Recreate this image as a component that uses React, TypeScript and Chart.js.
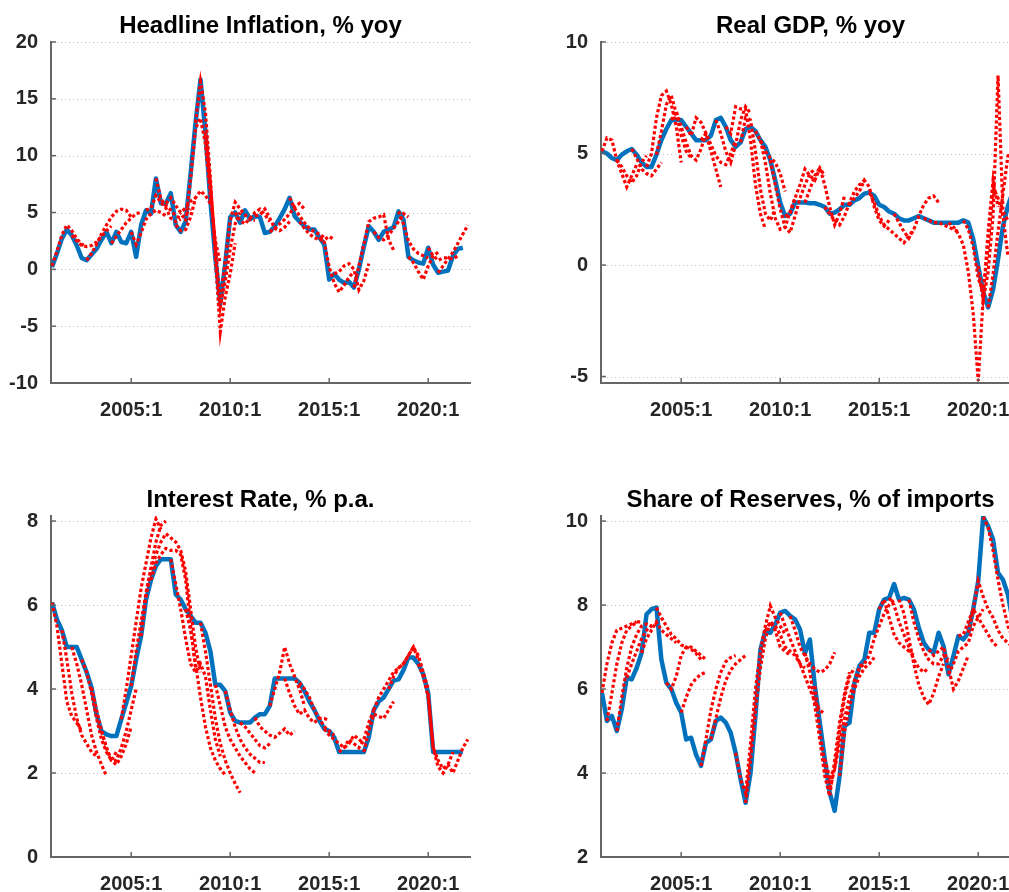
import React, { useEffect, useRef } from "react";
import { Chart, registerables } from "chart.js";

Chart.register(...registerables);

// ---------- data ----------
const firstYear = 2001; // first observation 2001:1, quarterly
const xTickYears = [2005, 2010, 2015, 2020];

const inflationTicks = [-10, -5, 0, 5, 10, 15, 20];
const gdpTicks = [-5, 0, 5, 10];
const rateTicks = [0, 2, 4, 6, 8];
const reserveTicks = [2, 4, 6, 8, 10];

const inflationActual = [
  0.2, 1.4, 2.7, 3.5, 3.0, 2.1, 1.0, 0.8, 1.3, 1.8,
  2.6, 3.3, 2.3, 3.3, 2.4, 2.3, 3.3, 1.1, 3.9, 5.2,
  4.9, 8.0, 5.8, 5.8, 6.7, 3.9, 3.3, 4.2, 8.4, 12.9,
  16.7, 12.0, 6.0, 1.0, -3.0, 0.5, 4.6, 5.0, 4.1, 5.2,
  4.4, 4.7, 4.6, 3.2, 3.3, 3.8, 4.5, 5.3, 6.3, 4.7,
  4.2, 3.8, 3.5, 3.5, 2.8, 2.2, -0.9, -0.4, -0.9, -1.2,
  -1.1, -1.6, 0.0, 2.0, 3.8, 3.3, 2.6, 3.3, 3.5, 3.7,
  5.1, 4.4, 1.1, 0.8, 0.6, 0.5, 1.9, 0.4, -0.3, -0.2,
  -0.1, 1.2, 1.8, 1.9,
];
const inflationForecastStarts = [0, 4, 7, 12, 16, 19, 21, 23, 25, 27, 29, 31, 34, 37, 41, 44, 48, 50, 54, 57, 61, 65, 70, 72, 76, 78];
const inflationForecastPaths = [
  [0.3, 1.6, 3.0, 3.9, 3.4, 2.7, 2.2, 2.0],
  [3.0, 2.5, 2.1, 2.0, 2.1, 2.4, 2.9, 3.4, 3.8],
  [0.8, 1.4, 2.2, 3.1, 3.9, 4.6, 5.1, 5.3, 5.2, 4.6],
  [2.3, 2.9, 3.5, 4.1, 4.5, 4.9, 5.0],
  [3.3, 2.2, 3.2, 4.4, 4.9, 5.2, 5.0, 4.7],
  [5.2, 5.4, 6.5, 5.9, 5.4, 4.5, 4.2, 4.4],
  [8.0, 6.2, 5.6, 5.2, 4.7, 4.5, 4.8, 5.3],
  [5.8, 6.3, 5.6, 5.0, 5.4, 6.0, 6.3],
  [3.9, 3.4, 3.5, 4.6, 6.3, 6.9, 6.5, 5.8],
  [4.2, 8.0, 12.4, 13.3, 11.0, 6.5, 2.5, 0.5],
  [12.9, 16.5, 13.8, 8.0, 1.0, -5.5, -2.4, -0.4, 2.3],
  [12.0, 7.5, 2.0, -3.3, -1.0, 1.8, 4.0, 5.0],
  [-3.0, 0.8, 4.3, 5.9, 5.3, 4.8, 4.4, 4.3],
  [5.0, 4.3, 4.0, 4.5, 5.0, 5.3, 4.8, 4.2],
  [4.7, 4.8, 5.3, 4.5, 3.6, 3.4, 3.7, 4.2],
  [3.3, 3.6, 4.0, 4.4, 4.9, 5.5, 5.8, 5.3],
  [6.3, 5.4, 4.7, 4.1, 3.6, 3.3, 3.1, 2.8],
  [4.2, 3.6, 3.1, 2.8, 2.6, 2.6, 2.9, 2.6],
  [2.8, 2.4, 0.2, -1.2, -2.0, -1.4, -0.7, -0.2],
  [-0.4, -0.2, 0.3, 0.5, 0.0, -1.8, -1.0, 0.5],
  [-1.6, 0.3, 2.2, 4.2, 4.5, 4.6, 4.8, 2.6, 1.7],
  [3.3, 2.8, 2.6, 3.0, 3.6, 4.2, 4.9, 4.6],
  [5.1, 4.0, 2.5, 1.8, 1.4, 1.2, 1.0],
  [1.1, 0.6, -0.2, -0.9, 0.3, 1.2, 1.5],
  [1.9, 1.2, 0.8, 1.0, 1.0, 0.9, 1.2],
  [-0.3, 0.3, 0.9, 1.5, 2.3, 3.1, 3.9],
];

const gdpActual = [
  5.1, 5.0, 4.8, 4.7, 4.95, 5.1, 5.2, 4.95, 4.6, 4.4,
  4.4, 4.95, 5.6, 6.1, 6.5, 6.5, 6.5, 6.2, 5.9, 5.6,
  5.6, 5.6, 5.8, 6.5, 6.6, 6.2, 5.6, 5.3, 5.5, 6.1,
  6.2, 6.0, 5.6, 5.3, 4.7, 3.8, 2.8, 2.2, 2.3, 2.8,
  2.8, 2.8, 2.77, 2.77, 2.7, 2.6, 2.3, 2.35, 2.5, 2.7,
  2.7, 2.9, 3.0, 3.2, 3.25, 3.1, 2.7, 2.6, 2.4, 2.3,
  2.1, 2.0, 2.0, 2.1, 2.2, 2.1, 2.0, 1.9, 1.9, 1.9,
  1.9, 1.9, 1.9, 2.0, 1.9, 1.15, -0.05, -1.2, -1.9, -1.1,
  0.25, 1.75, 2.65, 3.3,
];
const gdpForecastStarts = [0, 3, 6, 9, 11, 14, 17, 20, 23, 25, 28, 31, 32, 34, 37, 41, 45, 50, 54, 59, 65, 70, 73, 76, 78];
const gdpForecastPaths = [
  [5.1, 5.7, 5.6, 4.7, 4.1, 3.5, 4.0, 4.5],
  [4.7, 4.4, 4.0, 3.7, 4.0, 4.6, 4.9],
  [5.2, 4.8, 4.3, 4.1, 4.0, 4.3, 4.6],
  [4.4, 5.0, 6.6, 7.6, 7.8, 7.2, 6.2, 4.6],
  [4.95, 6.0, 7.2, 7.6, 6.8, 5.8, 5.1, 4.8],
  [6.5, 6.9, 6.2, 5.5, 4.9, 4.7, 5.2, 5.9],
  [6.2, 5.8, 6.6, 6.4, 5.9, 5.1, 4.3, 3.5],
  [5.6, 5.9, 5.4, 4.9, 4.6, 4.5, 5.0, 5.6],
  [6.5, 5.9, 5.1, 4.6, 5.4, 6.5, 7.1, 6.8],
  [6.2, 5.9, 7.1, 7.0, 7.0, 5.6, 3.6, 2.3, 1.6],
  [5.5, 6.6, 6.5, 5.1, 3.4, 2.3, 2.0, 2.5],
  [6.0, 5.6, 5.1, 4.8, 4.6, 4.1, 3.3],
  [5.6, 4.6, 3.2, 2.1, 1.6, 1.7, 2.4, 3.0],
  [4.7, 3.6, 2.5, 1.7, 1.45, 2.2, 3.0, 3.6, 4.1, 4.3],
  [2.2, 2.3, 3.0, 3.6, 4.3, 4.0, 3.8, 4.35, 4.0],
  [2.8, 3.4, 4.0, 4.35, 3.6, 2.6, 1.8, 2.3, 3.1],
  [2.6, 2.3, 2.0, 1.8, 2.2, 2.8, 3.3, 3.6, 3.8],
  [2.7, 3.0, 3.3, 3.8, 3.5, 2.6, 2.0, 1.75, 2.0],
  [3.25, 2.8, 2.2, 1.8, 1.6, 1.4, 1.2, 1.0, 1.3, 1.6],
  [2.3, 1.9, 1.5, 1.2, 1.6, 2.2, 2.7, 3.0, 3.1, 2.8],
  [2.1, 2.0, 1.9, 1.9, 1.8, 1.7, 1.6, 1.5],
  [1.9, 1.7, 1.4, 0.9, -0.3, -2.2, -5.2, -1.5, 1.5, 3.8, 2.6],
  [2.0, 1.6, 0.8, -0.6, -1.2, 0.8, 3.5, 3.0, 2.2, 0.4],
  [-0.05, -1.6, -0.3, 2.2, 8.5, 2.4, 2.0],
  [-1.9, -0.4, 1.5, 3.2, 4.9, 5.0],
];

const rateActual = [
  6.06, 5.66, 5.4, 5.0, 5.0, 5.0, 4.7, 4.4, 4.03, 3.4,
  3.0, 2.92, 2.88, 2.88, 3.28, 3.67, 4.07, 4.7, 5.26, 6.13,
  6.6, 6.93, 7.09, 7.09, 7.09, 6.25, 6.13, 5.9, 5.74, 5.58,
  5.58, 5.34, 4.9, 4.1, 4.1, 3.95, 3.44, 3.24, 3.2, 3.2,
  3.2, 3.32, 3.4, 3.4, 3.6, 4.25, 4.25, 4.25, 4.25, 4.25,
  4.15, 3.95, 3.7, 3.5, 3.25, 3.05, 3.0, 2.85, 2.5, 2.5,
  2.5, 2.5, 2.5, 2.5, 2.85, 3.5, 3.7, 3.8, 4.0, 4.2,
  4.23, 4.45, 4.75, 4.75, 4.6, 4.35, 3.9, 2.5, 2.5, 2.5,
  2.5, 2.5, 2.5, 2.5,
];
const rateForecastStarts = [0, 2, 4, 6, 8, 10, 14, 16, 18, 20, 24, 27, 30, 33, 35, 38, 41, 44, 47, 50, 55, 58, 63, 65, 68, 74, 76];
const rateForecastPaths = [
  [6.06, 5.5, 4.6, 3.7, 3.35, 3.2, 3.0],
  [5.4, 4.7, 3.9, 3.3, 2.9, 2.7, 2.5, 2.4],
  [5.0, 4.6, 4.1, 3.5, 2.9, 2.5, 2.2, 1.93],
  [4.7, 4.4, 3.9, 3.3, 2.8, 2.5, 2.3, 2.5],
  [4.03, 3.5, 3.0, 2.6, 2.3, 2.2, 2.4, 2.7, 3.1],
  [3.0, 2.6, 2.3, 2.3, 2.6, 3.0, 3.5, 4.0],
  [3.28, 4.0, 4.8, 5.6, 6.4, 7.0, 7.6, 8.05, 7.8],
  [4.07, 4.9, 5.6, 6.3, 6.9, 7.5, 7.9, 8.0],
  [5.26, 6.2, 6.8, 7.2, 7.5, 7.7, 7.6, 7.5, 7.3, 6.8, 5.9, 5.0, 4.4],
  [6.6, 7.0, 7.2, 7.35, 7.3, 7.3, 7.2, 6.6, 5.5, 4.5],
  [7.09, 6.5, 5.9, 5.2, 4.6, 4.4, 4.6, 4.3, 3.5, 2.8, 2.4],
  [5.9, 5.4, 4.6, 3.8, 3.1, 2.6, 2.3, 2.1, 1.95],
  [5.58, 4.9, 4.1, 3.3, 2.7, 2.3, 2.0, 1.75, 1.53],
  [4.1, 3.6, 3.1, 2.8, 2.6, 2.4, 2.25, 2.1, 2.0],
  [3.95, 3.5, 3.1, 2.8, 2.6, 2.45, 2.35, 2.25, 2.25],
  [3.2, 3.1, 2.95, 2.8, 2.65, 2.6, 2.7],
  [3.32, 3.1, 3.0, 2.9, 2.85, 2.95, 3.05, 2.9, 3.0],
  [3.6, 4.0, 4.4, 5.0, 4.6, 4.3, 4.0, 3.6],
  [4.25, 3.9, 3.6, 3.4, 3.5, 3.3, 3.2, 3.3, 3.3, 3.25],
  [4.15, 4.0, 3.8, 3.5, 3.3, 3.1, 3.0, 2.9],
  [3.05, 2.9, 2.8, 2.7, 2.6, 2.7, 2.9, 2.8, 2.7],
  [2.5, 2.6, 2.8, 2.7, 2.6, 2.8, 3.2, 3.5],
  [2.5, 3.0, 3.4, 3.35, 3.3, 3.5, 3.7],
  [3.5, 3.8, 4.0, 4.2, 4.4, 4.5, 4.6, 4.8, 5.0, 4.7],
  [4.0, 4.3, 4.5, 4.6, 4.8, 5.0, 4.8, 4.4, 4.0],
  [4.6, 4.3, 3.8, 2.6, 2.15, 2.0, 2.2, 2.5],
  [3.9, 2.6, 2.3, 2.1, 2.2, 2.0, 2.3, 2.6, 2.8],
];

const reserveActual = [
  5.91, 5.24, 5.36, 5.0, 5.52, 6.27, 6.23, 6.5, 6.86, 7.78,
  7.9, 7.94, 6.7, 6.15, 6.0, 5.67, 5.44, 4.8, 4.84, 4.44,
  4.17, 4.72, 4.8, 5.24, 5.32, 5.2, 4.96, 4.48, 3.85, 3.29,
  4.0, 5.36, 6.94, 7.38, 7.34, 7.54, 7.82, 7.86, 7.74, 7.66,
  7.42, 6.85, 7.18, 6.07, 5.2, 4.33, 3.53, 3.1, 3.93, 5.12,
  5.2, 6.15, 6.55, 6.7, 7.34, 7.34, 7.9, 8.13, 8.17, 8.5,
  8.13, 8.17, 8.13, 7.9, 7.46, 7.1, 6.94, 6.87, 7.34, 7.02,
  6.35, 6.79, 7.26, 7.18, 7.34, 7.9, 8.57, 10.1, 9.88, 9.56,
  8.77, 8.6, 8.25, 7.6,
];
const reserveForecastStarts = [0, 1, 3, 5, 8, 11, 13, 16, 20, 22, 27, 29, 33, 36, 38, 41, 43, 45, 48, 52, 56, 58, 60, 62, 66, 70, 72, 74, 77];
const reserveForecastPaths = [
  [5.91, 6.6, 7.1, 7.4, 7.45, 7.5, 7.55, 7.6],
  [5.24, 5.9, 6.6, 7.1, 7.4, 7.5, 7.6, 7.6],
  [5.0, 5.8, 6.5, 7.0, 7.3, 7.5, 7.55, 7.5],
  [6.27, 6.6, 6.9, 7.2, 7.4, 7.5, 7.55],
  [6.86, 7.2, 7.4, 7.6, 7.4, 7.3, 7.2, 7.1],
  [7.94, 7.7, 7.5, 7.3, 7.2, 7.05, 7.0, 6.95, 6.85, 6.7],
  [6.15, 6.0, 6.3, 6.8, 7.0, 7.0, 6.9, 6.8, 6.7],
  [5.44, 5.8, 6.1, 6.25, 6.35, 6.4],
  [4.17, 4.8, 5.5, 6.0, 6.4, 6.65, 6.75, 6.8],
  [4.8, 5.3, 5.8, 6.2, 6.45, 6.6, 6.7, 6.8],
  [4.48, 3.85, 3.53, 4.7, 6.0, 6.9, 7.5, 7.98, 7.7, 7.5, 7.3],
  [3.29, 4.3, 5.5, 6.5, 7.2, 7.6, 7.4, 7.0, 6.9, 6.8],
  [7.38, 7.6, 7.5, 7.3, 7.0, 6.9, 6.8, 6.6, 6.5],
  [7.82, 7.5, 7.2, 6.9, 6.6, 6.3, 6.0, 5.7, 5.5, 5.4],
  [7.74, 7.4, 7.0, 6.79, 6.6, 6.47, 6.4, 6.45, 6.6, 6.87],
  [6.85, 6.4, 5.6, 4.8, 3.93, 3.45, 4.3, 5.2, 5.9, 6.4],
  [6.07, 5.0, 4.2, 3.6, 4.1, 5.0, 5.8, 6.3, 6.5],
  [4.33, 3.9, 4.1, 4.7, 5.3, 5.8, 6.2, 6.5, 6.6],
  [3.93, 5.0, 5.6, 6.0, 6.3, 6.5, 6.6, 6.75],
  [6.55, 6.6, 6.8, 7.2, 7.5, 7.8, 8.0, 8.13],
  [7.9, 8.13, 7.7, 7.3, 7.1, 7.0, 6.9, 6.8],
  [8.17, 8.0, 7.6, 7.3, 7.0, 6.7, 6.5, 6.4, 6.5],
  [8.13, 7.8, 7.2, 6.6, 6.1, 5.8, 5.63, 5.9, 6.3, 6.6],
  [8.13, 7.6, 7.2, 6.9, 6.7, 6.6, 6.6, 6.8, 6.7],
  [6.94, 6.8, 6.9, 7.0, 6.5, 6.0, 6.2, 6.5, 6.8],
  [6.35, 6.6, 6.9, 7.0, 7.1, 7.5, 7.7, 7.9],
  [7.26, 7.3, 7.6, 7.9, 7.7, 7.5, 7.3, 7.1, 7.0],
  [7.34, 7.9, 8.57, 8.2, 7.9, 7.7, 7.4, 7.2, 7.1, 7.0],
  [10.1, 9.85, 9.3, 8.6, 8.0, 7.5, 7.2],
];

// ---------- styling ----------
const FONT = '"Liberation Sans", Arial, Helvetica, sans-serif';
const BLUE = "#0072bd";
const RED = "#ff0000";
const AXIS = "#666666";
const CANVAS_W = 550;
const CANVAS_H = 474;

const quarterX = (idx: number) => firstYear + idx / 4;

const panelDecor = {
  id: "panelDecor",
  beforeDatasetsDraw(chart: any) {
    const { ctx, chartArea: a, scales } = chart;
    const ys = scales.y;
    ctx.save();
    ctx.strokeStyle = "#c2c2c2";
    ctx.lineWidth = 1;
    ctx.setLineDash([1, 3]);
    for (const t of ys.ticks) {
      if (Math.abs(t.value - ys.min) < 1e-9) continue;
      const y = Math.round(ys.getPixelForValue(t.value)) + 0.5;
      ctx.beginPath();
      ctx.moveTo(a.left + 2, y);
      ctx.lineTo(a.right, y);
      ctx.stroke();
    }
    ctx.restore();
  },
  afterDraw(chart: any, _args: any, opts: any) {
    const { ctx, chartArea: a, scales } = chart;
    ctx.save();
    ctx.strokeStyle = AXIS;
    ctx.lineWidth = 1.5;
    for (const t of scales.y.ticks) {
      const y = scales.y.getPixelForValue(t.value);
      ctx.beginPath();
      ctx.moveTo(a.left, y);
      ctx.lineTo(a.left + 5, y);
      ctx.stroke();
    }
    for (const t of scales.x.ticks) {
      const x = scales.x.getPixelForValue(t.value);
      ctx.beginPath();
      ctx.moveTo(x, a.bottom);
      ctx.lineTo(x, a.bottom - 5);
      ctx.stroke();
    }
    ctx.fillStyle = "#000";
    ctx.font = `bold 24px ${FONT}`;
    ctx.textAlign = "center";
    ctx.textBaseline = "alphabetic";
    ctx.fillText(opts.text, (a.left + a.right) / 2, 33);
    ctx.restore();
  },
};

type PanelProps = {
  title: string;
  actual: number[];
  starts: number[];
  paths: number[][];
  yMin: number;
  yMax: number;
  yTicks: number[];
  left: number;
  top: number;
};

function Panel({ title, actual, starts, paths, yMin, yMax, yTicks, left, top }: PanelProps) {
  const ref = useRef<HTMLCanvasElement | null>(null);

  useEffect(() => {
    if (!ref.current) return;
    const forecastSets = paths.map((p, k) => ({
      data: p.map((v, j) => ({ x: quarterX(starts[k] + j), y: v })),
      borderColor: RED,
      borderWidth: 3.2,
      borderDash: [3.2, 2.4],
      borderCapStyle: "butt" as const,
      pointRadius: 0,
      fill: false,
      order: 0,
    }));
    const actualSet = {
      data: actual.map((v, i) => ({ x: quarterX(i), y: v })),
      borderColor: BLUE,
      borderWidth: 4.5,
      borderJoinStyle: "round" as const,
      pointRadius: 0,
      fill: false,
      order: 1,
    };
    const tickFont = { family: FONT, size: 20, weight: "bold" as const };
    const chart = new Chart(ref.current, {
      type: "line",
      data: { datasets: [actualSet, ...forecastSets] as any },
      options: {
        responsive: false,
        animation: false,
        devicePixelRatio: 1,
        events: [],
        layout: { padding: { left: 0, right: 80, top: 42, bottom: 51 } },
        plugins: {
          legend: { display: false },
          tooltip: { enabled: false },
          title: { display: false },
          panelDecor: { text: title },
        } as any,
        scales: {
          x: {
            type: "linear",
            min: 2000.95,
            max: 2022.11,
            afterBuildTicks: (s: any) => {
              s.ticks = xTickYears.map((v) => ({ value: v }));
            },
            afterFit: (s: any) => {
              s.height = 40;
            },
            grid: { display: false, drawTicks: false },
            border: { display: true, color: AXIS, width: 2 },
            ticks: {
              autoSkip: false,
              maxRotation: 0,
              padding: 15,
              color: "#262626",
              font: tickFont,
              callback: (v: any) => `${v}:1`,
            },
          },
          y: {
            type: "linear",
            min: yMin,
            max: yMax,
            afterBuildTicks: (s: any) => {
              s.ticks = yTicks.map((v) => ({ value: v }));
            },
            afterFit: (s: any) => {
              s.width = 51;
            },
            grid: { display: false, drawTicks: false },
            border: { display: true, color: AXIS, width: 2 },
            ticks: {
              padding: 13,
              color: "#262626",
              font: tickFont,
              callback: (v: any) => `${v}`,
            },
          },
        },
      } as any,
      plugins: [panelDecor as any],
    });
    return () => chart.destroy();
  }, [title, actual, starts, paths, yMin, yMax, yTicks]);

  return (
    <canvas
      ref={ref}
      width={CANVAS_W}
      height={CANVAS_H}
      style={{ position: "absolute", left, top, width: CANVAS_W, height: CANVAS_H }}
    />
  );
}

export default function App() {
  return (
    <div
      style={{
        position: "fixed",
        left: 0,
        top: 0,
        width: 1009,
        height: 892,
        overflow: "hidden",
        background: "#ffffff",
      }}
    >
      <Panel
        title="Headline Inflation, % yoy"
        actual={inflationActual}
        starts={inflationForecastStarts}
        paths={inflationForecastPaths}
        yMin={-10}
        yMax={20}
        yTicks={inflationTicks}
        left={0}
        top={0}
      />
      <Panel
        title="Real GDP, % yoy"
        actual={gdpActual}
        starts={gdpForecastStarts}
        paths={gdpForecastPaths}
        yMin={-5.29}
        yMax={10}
        yTicks={gdpTicks}
        left={550}
        top={0}
      />
      <Panel
        title="Interest Rate, % p.a."
        actual={rateActual}
        starts={rateForecastStarts}
        paths={rateForecastPaths}
        yMin={0}
        yMax={8.12}
        yTicks={rateTicks}
        left={0}
        top={474}
      />
      <Panel
        title="Share of Reserves, % of imports"
        actual={reserveActual}
        starts={reserveForecastStarts}
        paths={reserveForecastPaths}
        yMin={2}
        yMax={10.12}
        yTicks={reserveTicks}
        left={550}
        top={474}
      />
    </div>
  );
}
